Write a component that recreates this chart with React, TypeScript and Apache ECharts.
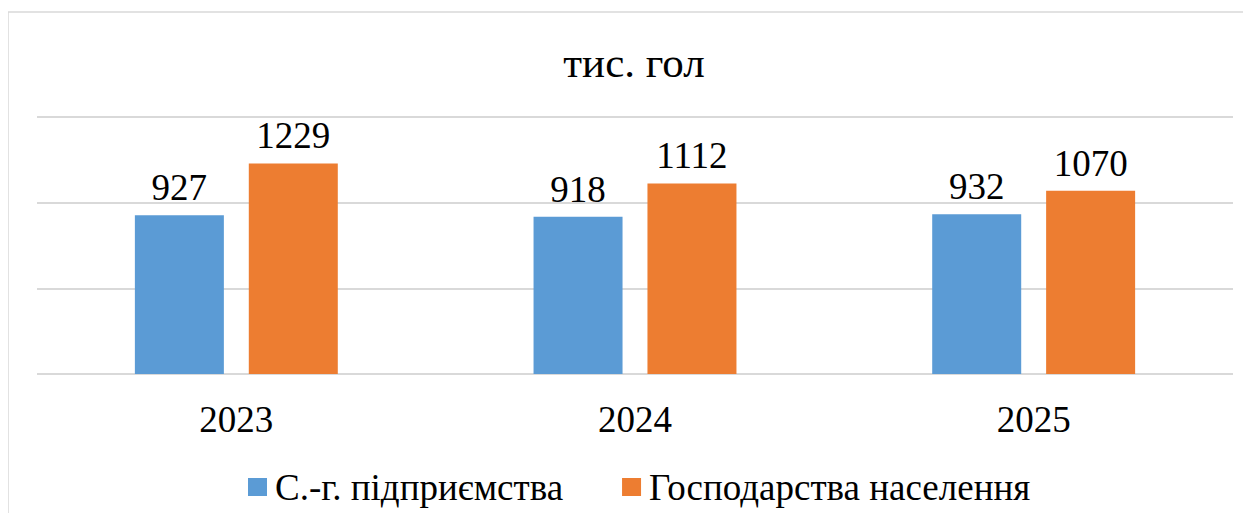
import React, { useEffect, useRef } from "react";
import * as echarts from "echarts";

const categories = ["2023", "2024", "2025"];
const seriesNames = ["С.-г. підприємства", "Господарства населення"];
const enterprises = [927, 918, 932];
const households = [1229, 1112, 1070];
const titleText = "тис. гол";

const FONT = "Liberation Serif";

export default function App() {
  const ref = useRef<HTMLDivElement>(null);
  useEffect(() => {
    if (!ref.current) return;
    const chart = echarts.init(ref.current, null, { renderer: "svg" });
    const labelStyle = {
      show: true,
      position: "top" as const,
      distance: 9,
      fontFamily: FONT,
      fontSize: 37,
      lineHeight: 37,
      color: "#000",
    };
    chart.setOption({
      animation: false,
      backgroundColor: "#fff",
      textStyle: { fontFamily: FONT },
      graphic: [
        {
          type: "rect",
          silent: true,
          shape: { x: 0, y: 4, width: 3000, height: 3000 },
          style: { fill: "none", stroke: "#d9d9d9", lineWidth: 1.5 },
          z: -1,
        },
        {
          type: "text",
          x: 626,
          y: 54,
          style: {
            text: titleText,
            fontFamily: FONT,
            fontSize: 43,
            fill: "#000",
            align: "center",
            verticalAlign: "middle",
          },
        },
      ],
      legend: {
        left: 235,
        top: 454,
        itemWidth: 19,
        itemHeight: 18,
        itemGap: 59,
        icon: "rect",
        textStyle: {
          fontFamily: FONT,
          fontSize: 37,
          lineHeight: 40,
          color: "#000",
          padding: [0, 0, 0, 3],
        },
        data: seriesNames,
      },
      grid: { left: 29, right: 10, top: 109, bottom: 139 },
      xAxis: {
        type: "category",
        data: categories,
        axisLine: { show: false },
        axisTick: { show: false },
        axisLabel: {
          margin: 25,
          fontFamily: FONT,
          fontSize: 37,
          lineHeight: 40,
          color: "#000",
        },
      },
      yAxis: {
        type: "value",
        min: 0,
        max: 1500,
        interval: 500,
        axisLabel: { show: false },
        axisLine: { show: false },
        axisTick: { show: false },
        splitLine: { lineStyle: { color: "#d9d9d9", width: 2 } },
      },
      series: [
        {
          name: seriesNames[0],
          type: "bar",
          data: enterprises,
          barWidth: 89,
          barGap: "28%",
          itemStyle: { color: "#5B9BD5" },
          label: labelStyle,
        },
        {
          name: seriesNames[1],
          type: "bar",
          data: households,
          barWidth: 89,
          barGap: "28%",
          itemStyle: { color: "#ED7D31" },
          label: labelStyle,
        },
      ],
    });
    return () => chart.dispose();
  }, []);
  return <div ref={ref} style={{ width: 1235, height: 505 }} />;
}
